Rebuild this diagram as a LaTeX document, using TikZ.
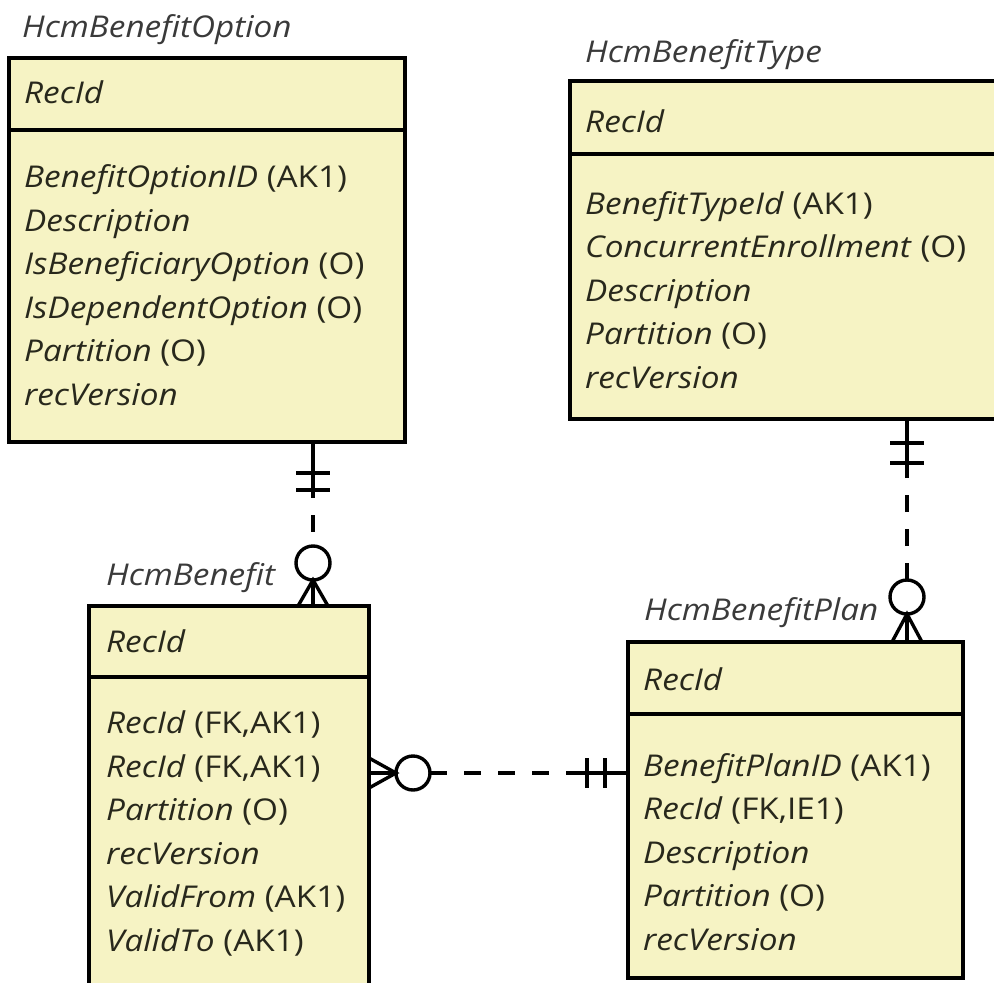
\documentclass[tikz,border=0pt]{standalone}
\usepackage{fontspec}
\setmainfont{Open Sans}[FakeStretch=1.11]
\usetikzlibrary{positioning,calc}

\definecolor{entfill}{RGB}{246,243,196}
\definecolor{txtcol}{RGB}{40,40,28}
\definecolor{titlecol}{RGB}{58,58,58}

\tikzset{
	entity/.style={draw=black, fill=entfill, line width=3.6pt, inner sep=0pt, outer sep=0pt, anchor=north west},
	enttitle/.style={text=titlecol, font=\fontsize{30}{32}\selectfont\itshape, inner sep=0pt, anchor=base west},
	attrs/.style={text=txtcol, font=\fontsize{30}{43.5}\selectfont, align=left, inner sep=0pt, anchor=base west},
	rel/.style={line width=3.4pt},
	reldash/.style={rel, dash pattern=on 17pt off 17pt},
}

\begin{document}
\begin{tikzpicture}[x=1pt, y=-1pt]
	\useasboundingbox (0,0) rectangle (994,983);

	% HcmBenefitOption
	\node[entity, minimum width=396pt, minimum height=72pt] (opthead) at (9,58) {};
	\node[entity, minimum width=396pt, minimum height=312pt, below right=0pt and 0pt of opthead.south west] (optbody) {};
	\node[enttitle] (opttitle) at (22,37) {HcmBenefitOption};
	\node[attrs] (optkey) at (24,103) {\textit{RecId}};
	% base anchor sits on the last line
	\node[attrs] (optattr) at (24,405) {\textit{BenefitOptionID} (AK1)\\ \textit{Description}\\ \textit{IsBeneficiaryOption} (O)\\ \textit{IsDependentOption} (O)\\ \textit{Partition} (O)\\ \textit{recVersion}};

	% HcmBenefitType
	\node[entity, minimum width=430pt, minimum height=73pt] (typehead) at (570,81) {};
	\node[entity, minimum width=430pt, minimum height=265pt, below right=0pt and 0pt of typehead.south west] (typebody) {};
	\node[enttitle] (typetitle) at (585,62) {HcmBenefitType};
	\node[attrs] (typekey) at (585,132) {\textit{RecId}};
	\node[attrs] (typeattr) at (585,388) {\textit{BenefitTypeId} (AK1)\\ \textit{ConcurrentEnrollment} (O)\\ \textit{Description}\\ \textit{Partition} (O)\\ \textit{recVersion}};

	% HcmBenefit
	\node[entity, minimum width=280pt, minimum height=71pt] (benhead) at (89,606) {};
	\node[entity, minimum width=280pt, minimum height=313pt, below right=0pt and 0pt of benhead.south west] (benbody) {};
	\node[enttitle] (bentitle) at (106,585) {HcmBenefit};
	\node[attrs] (benkey) at (106,652) {\textit{RecId}};
	\node[attrs] (benattr) at (106,951) {\textit{RecId} (FK,AK1)\\ \textit{RecId} (FK,AK1)\\ \textit{Partition} (O)\\ \textit{recVersion}\\ \textit{ValidFrom} (AK1)\\ \textit{ValidTo} (AK1)};

	% HcmBenefitPlan
	\node[entity, minimum width=335pt, minimum height=72pt] (planhead) at (628,642) {};
	\node[entity, minimum width=335pt, minimum height=264pt, below right=0pt and 0pt of planhead.south west] (planbody) {};
	\node[enttitle] (plantitle) at (644,620) {HcmBenefitPlan};
	\node[attrs] (plankey) at (643,690) {\textit{RecId}};
	\node[attrs] (planattr) at (643,950) {\textit{BenefitPlanID} (AK1)\\ \textit{RecId} (FK,IE1)\\ \textit{Description}\\ \textit{Partition} (O)\\ \textit{recVersion}};

	% connector ends
	\path (optbody.south west) ++(304,0) coordinate (optend);
	\path (benhead.north west) ++(224,0) coordinate (benend);
	\path (typebody.south west) ++(337,0) coordinate (typeend);
	\path (planhead.north west) ++(279,0) coordinate (planend);
	\path (benbody.north east) ++(0,96) coordinate (benside);
	\path (planbody.north west) ++(0,59) coordinate (planside);

	% HcmBenefitOption -- HcmBenefit
	\draw[rel] (optend) -- ++(0,56);
	\draw[rel] ($(optend)+(-17,31)$) -- ++(34,0);
	\draw[rel] ($(optend)+(-17,48)$) -- ++(34,0);
	\draw[reldash, dash phase=17pt] ($(optend)+(0,56)$) -- ($(benend)+(0,-60)$);
	\draw[rel] ($(benend)+(0,-43)$) circle[radius=17];
	\draw[rel] ($(benend)+(-15,0)$) -- ($(benend)+(0,-26)$) -- ($(benend)+(15,0)$);
	\draw[rel] (benend) -- ++(0,-26);

	% HcmBenefitType -- HcmBenefitPlan
	\draw[rel] (typeend) -- ++(0,51);
	\draw[rel] ($(typeend)+(-17,24)$) -- ++(34,0);
	\draw[rel] ($(typeend)+(-17,44)$) -- ++(34,0);
	\draw[reldash] ($(planend)+(0,-62)$) -- ($(typeend)+(0,51)$);
	\draw[rel] ($(planend)+(0,-45)$) circle[radius=17];
	\draw[rel] ($(planend)+(-15,0)$) -- ($(planend)+(0,-28)$) -- ($(planend)+(15,0)$);
	\draw[rel] (planend) -- ++(0,-28);

	% HcmBenefit -- HcmBenefitPlan
	\draw[rel] ($(benside)+(0,-15)$) -- ($(benside)+(27,0)$) -- ($(benside)+(0,15)$);
	\draw[rel] (benside) -- ++(27,0);
	\draw[rel] ($(benside)+(44,0)$) circle[radius=17];
	\draw[reldash] ($(benside)+(61,0)$) -- ($(planside)+(-60,0)$);
	\draw[rel] ($(planside)+(-60,0)$) -- (planside);
	\draw[rel] ($(planside)+(-41,-15)$) -- ++(0,30);
	\draw[rel] ($(planside)+(-23,-15)$) -- ++(0,30);

\end{tikzpicture}
\end{document}
